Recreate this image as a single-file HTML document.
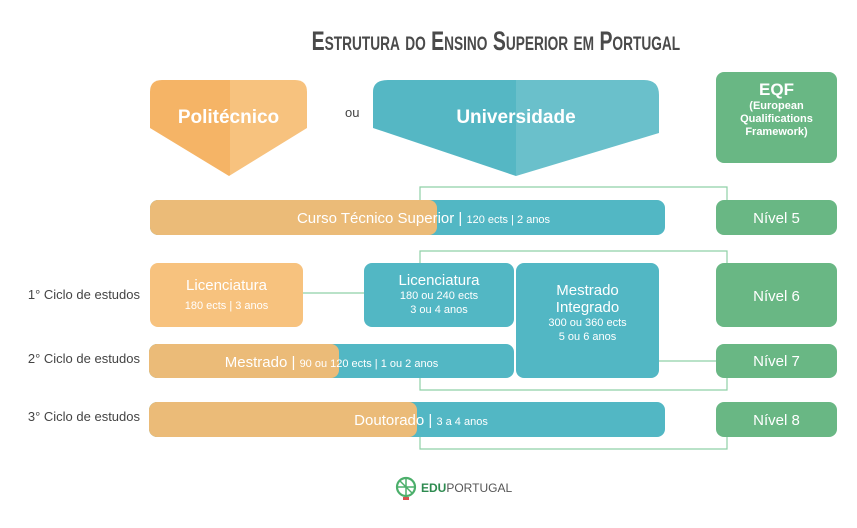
<!DOCTYPE html>
<html><head><meta charset="utf-8"><style>
body{margin:0;width:857px;height:528px;background:#fff;position:relative;overflow:hidden;font-family:"Liberation Sans",sans-serif;}
.a{position:absolute;box-sizing:border-box;}
.r{border-radius:8px;}
.t{color:#fff;text-align:center;}
.lbl{position:absolute;color:#444;font-size:13px;right:717px;white-space:nowrap;}
.g{background:#69b784;}
</style></head><body>
<div class="a" style="left:240px;top:26px;width:470px;text-align:center;font-size:27px;font-weight:bold;color:#4a4a4a;letter-spacing:0px;"><span style="display:inline-block;transform:scaleX(0.72);font-variant:small-caps;white-space:nowrap;">Estrutura do Ensino Superior em Portugal</span></div>

<svg class="a" style="left:0;top:0" width="857" height="528">
<defs>
<clipPath id="c1"><path d="M150,128 V92 Q150,80 162,80 H295 Q307,80 307,92 V128 L229,176 Z"/></clipPath>
<clipPath id="c2"><path d="M373,128 V92 Q373,80 388,80 H644 Q659,80 659,95 V133 L516,176 Z"/></clipPath>
</defs>
<g clip-path="url(#c1)"><rect x="150" y="80" width="80" height="100" fill="#f5b466"/><rect x="230" y="80" width="80" height="100" fill="#f7c27e"/></g>
<g clip-path="url(#c2)"><rect x="373" y="80" width="143" height="100" fill="#55b7c4"/><rect x="516" y="80" width="143" height="100" fill="#6ac0cb"/></g>
<g stroke="#8fd0a6" stroke-width="1.2" fill="none">
<path d="M420,200 V187 H727 V200"/>
<path d="M420,263 V251 H727 V263"/>
<path d="M420,378 V390 H727 V378"/>
<path d="M420,437 V449 H727 V437"/>
<path d="M659,361 H716"/>
<path d="M303,293 H364"/>
</g>
<g transform="translate(406,487)">
<circle r="9" fill="none" stroke="#4caf6b" stroke-width="2.2"/>
<path d="M-6,-6 L6,6 M-9,0 H9 M0,-9 V9" stroke="#4caf6b" stroke-width="1.5"/>
<rect x="-3" y="10" width="6" height="3" fill="#d9534f"/>
</g>
<text x="421" y="492" font-family="Liberation Sans" font-size="12" font-weight="bold" fill="#2e8b50">EDU<tspan font-weight="normal" fill="#555">PORTUGAL</tspan></text>
</svg>
<div class="a t" style="left:150px;top:107px;width:157px;font-size:19px;font-weight:bold;">Politécnico</div>
<div class="a" style="left:345px;top:105px;font-size:13px;color:#444;">ou</div>
<div class="a t" style="left:373px;top:107px;width:286px;font-size:19px;font-weight:bold;">Universidade</div>

<div class="a r g t" style="left:716px;top:72px;width:121px;height:91px;padding-top:8px;font-weight:bold;font-size:11px;line-height:13px;"><div style="font-size:17px;line-height:20px;">EQF</div>(European<br>Qualifications<br>Framework)</div>
<div class="a r g t" style="left:716px;top:200px;width:121px;height:35px;line-height:37px;font-size:15px;">Nível 5</div>
<div class="a r g t" style="left:716px;top:263px;width:121px;height:64px;line-height:68px;font-size:15px;">Nível 6</div>
<div class="a r g t" style="left:716px;top:344px;width:121px;height:34px;line-height:36px;font-size:15px;">Nível 7</div>
<div class="a r g t" style="left:716px;top:402px;width:121px;height:35px;line-height:37px;font-size:15px;">Nível 8</div>

<div class="a r" style="left:150px;top:200px;width:515px;height:35px;background:#52b7c4;"></div>
<div class="a r" style="left:150px;top:200px;width:287px;height:35px;background:#ebbb78;"></div>
<div class="a t" style="left:150px;top:200px;width:515px;line-height:37px;font-size:15px;padding-left:32px;box-sizing:border-box;">Curso Técnico Superior | <span style="font-size:11px">120 ects | 2 anos</span></div>

<div class="a r t" style="left:150px;top:263px;width:153px;height:64px;background:#f7c27e;padding-top:14px;font-size:15px;">Licenciatura<div style="font-size:11px;margin-top:6px;">180 ects | 3 anos</div></div>
<div class="a r t" style="left:364px;top:263px;width:150px;height:64px;background:#52b7c4;padding-top:9px;font-size:15px;line-height:17px;">Licenciatura<div style="font-size:11px;line-height:14px;">180 ou 240 ects<br>3 ou 4 anos</div></div>
<div class="a r t" style="left:516px;top:263px;width:143px;height:115px;background:#52b7c4;padding-top:19px;font-size:15px;line-height:17px;">Mestrado<br>Integrado<div style="font-size:11px;line-height:14px;">300 ou 360 ects<br>5 ou 6 anos</div></div>

<div class="a r" style="left:149px;top:344px;width:365px;height:34px;background:#52b7c4;"></div>
<div class="a r" style="left:149px;top:344px;width:190px;height:34px;background:#ebbb78;"></div>
<div class="a t" style="left:149px;top:344px;width:365px;line-height:38px;font-size:15px;box-sizing:border-box;">Mestrado | <span style="font-size:11px">90 ou 120 ects | 1 ou 2 anos</span></div>

<div class="a r" style="left:149px;top:402px;width:516px;height:35px;background:#52b7c4;"></div>
<div class="a r" style="left:149px;top:402px;width:268px;height:35px;background:#ebbb78;"></div>
<div class="a t" style="left:149px;top:402px;width:516px;line-height:37px;font-size:15px;padding-left:28px;box-sizing:border-box;">Doutorado | <span style="font-size:11px">3 a 4 anos</span></div>

<div class="lbl" style="top:287px;">1° Ciclo de estudos</div>
<div class="lbl" style="top:351px;">2° Ciclo de estudos</div>
<div class="lbl" style="top:409px;">3° Ciclo de estudos</div>
</body></html>
